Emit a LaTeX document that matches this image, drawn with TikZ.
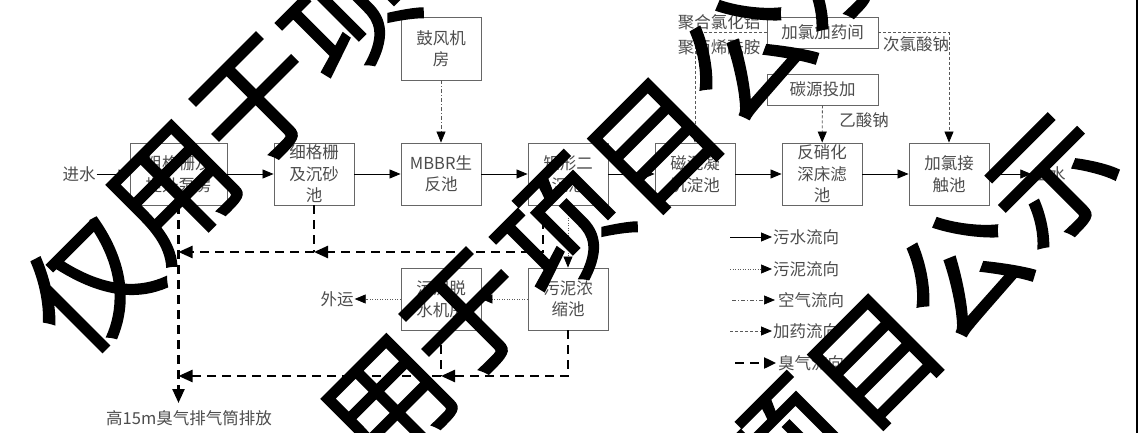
\documentclass[tikz,border=0pt]{standalone}
\usepackage{fontspec}
\newfontfamily\cjk{Noto Sans CJK SC}
\newfontfamily\wmfont[FakeBold=1.5]{Noto Sans CJK SC}
\usetikzlibrary{arrows.meta}
\begin{document}
\begin{tikzpicture}[x=1pt,y=-1pt,
  txt/.style={font=\cjk\fontsize{16.5}{21.5}\selectfont, text=black!70},
  box/.style={txt, draw=black!60, line width=0.9pt, minimum width=80pt, minimum height=62pt, inner sep=1pt, align=center},
  lbl/.style={txt, inner sep=1pt},
  arr/.style={-{Triangle[length=11pt,width=9pt,color=black]}},
  flow/.style={draw=black, line width=0.8pt, arr},
  sludge/.style={draw=black!65, line width=0.7pt, dash pattern=on 1pt off 1.5pt, arr},
  air/.style={draw=black!65, line width=0.7pt, dash pattern=on 4pt off 2pt on 1pt off 2pt, arr},
  chem/.style={draw=black!65, line width=0.8pt, dash pattern=on 3pt off 2pt},
  odor/.style={draw=black, line width=2.4pt, dash pattern=on 9pt off 6pt},
  odorarr/.style={-{Triangle[length=14pt,width=12pt]}},
  wm/.style={font=\wmfont\fontsize{125}{125}\selectfont, text=black, rotate=45, inner sep=0pt}
]
\useasboundingbox (0,0) rectangle (1141,433);

% main row
\node[box, minimum width=97pt] (b1) at (178.5,174) {粗格栅及\\提升泵房};
\node[box] (b2) at (314,174) {细格栅\\及沉砂\\池};
\node[box] (b3) at (441,174) {MBBR生\\反池};
\node[box] (b4) at (568,174) {矩形二\\沉池};
\node[box] (b5) at (695,174) {磁混凝\\沉淀池};
\node[box] (b6) at (822,174) {反硝化\\深床滤\\池};
\node[box] (b7) at (949,174) {加氯接\\触池};
\node[lbl] (in) at (79,174) {进水};
\node[lbl] (out) at (1049,174) {出水};

% top
\node[box, minimum height=63pt] (blow) at (441,48.5) {鼓风机\\房};
\node[box, minimum width=111pt, minimum height=31pt] (c1) at (822.5,32.5) {加氯加药间};
\node[box, minimum width=111pt, minimum height=31pt] (c2) at (822.5,89.5) {碳源投加};
\node[lbl] (pac) at (719,22) {聚合氯化铝};
\node[lbl] (pam) at (719,47) {聚丙烯酰胺};
\node[lbl] (naclo) at (916,44) {次氯酸钠};
\node[lbl] (naac) at (864,120) {乙酸钠};

% sludge
\node[box] (n1) at (441,299) {污泥脱\\水机房};
\node[box] (n2) at (568,299) {污泥浓\\缩池};
\node[lbl] (ext) at (337,299) {外运};
\node[lbl] (stack) at (189,418) {高15m臭气排气筒排放};

% water flow
\draw[flow] (in) -- (b1);
\draw[flow] (b1) -- (b2);
\draw[flow] (b2) -- (b3);
\draw[flow] (b3) -- (b4);
\draw[flow] (b4) -- (b5);
\draw[flow] (b5) -- (b6);
\draw[flow] (b6) -- (b7);
\draw[flow] (b7) -- (out);

% air
\draw[air] (blow) -- (b3);

% chemicals
\draw[chem, arr] (c1.west) -| (b5.north);
\draw[chem, arr] (c1.east) -| (b7.north);
\draw[chem, arr] (c2) -- (b6);

% sludge flow
\draw[sludge] (b4) -- (n2);
\draw[sludge] (n2) -- (n1);
\draw[sludge] (n1) -- (ext);

% odor
\coordinate (j2) at (314,252);
\coordinate (o1) at (178.5,252);
\coordinate (j5) at (441,376);
\coordinate (o2) at (178.5,376);
\coordinate (o3) at (178.5,403);
\draw[odor, odorarr] (b1.south) -- (o3);
\draw[odor] (b2.south) -- (j2);
\draw[odor, odorarr] ([xshift=-25pt]b4.south) |- (j2);
\draw[odor, odorarr] (j2) -- (o1);
\draw[odor] (n1.south) -- (j5);
\draw[odor, odorarr] (n2.south) |- (j5);
\draw[odor, odorarr] (j5) -- (o2);

% legend
\coordinate (l1a) at (730,237); \coordinate (l1b) at (772,237);
\coordinate (l2a) at (730,269); \coordinate (l2b) at (772,269);
\coordinate (l3a) at (732,300); \coordinate (l3b) at (775,300);
\coordinate (l4a) at (730,331); \coordinate (l4b) at (772,331);
\coordinate (l5a) at (735,363); \coordinate (l5b) at (776,363);
\draw[flow] (l1a) -- (l1b);
\draw[sludge] (l2a) -- (l2b);
\draw[air] (l3a) -- (l3b);
\draw[chem, arr] (l4a) -- (l4b);
\draw[odor, -{Triangle[length=12pt,width=11pt]}] (l5a) -- (l5b);
\node[lbl, anchor=west] (t1) at (772,237) {污水流向};
\node[lbl, anchor=west] (t2) at (772,269) {污泥流向};
\node[lbl, anchor=west] (t3) at (777,300) {空气流向};
\node[lbl, anchor=west] (t4) at (772,331) {加药流向};
\node[lbl, anchor=west] (t5) at (777,363) {臭气流向};

% right border
\coordinate (r1) at (1137,0); \coordinate (r2) at (1137,433);
\draw[line width=1.2pt] (r1) -- (r2);

% watermark
\node[wm] (w1) at (90,284) {仅};
\node[wm] (w2) at (175,192) {用};
\node[wm] (w3) at (260,103) {于};
\node[wm] (w4) at (348,15) {项};
\node[wm] (w5) at (390,406) {用};
\node[wm] (w6) at (470,318) {于};
\node[wm] (w7) at (562,229) {项};
\node[wm] (w8) at (656,146) {目};
\node[wm] (w9) at (745,55) {公};
\node[wm] (w10) at (833,-36) {示};
\node[wm] (w11) at (785,450) {项};
\node[wm] (w12) at (876,362) {目};
\node[wm] (w13) at (962,272) {公};
\node[wm] (w14) at (1054,182) {示};
\end{tikzpicture}
\end{document}
